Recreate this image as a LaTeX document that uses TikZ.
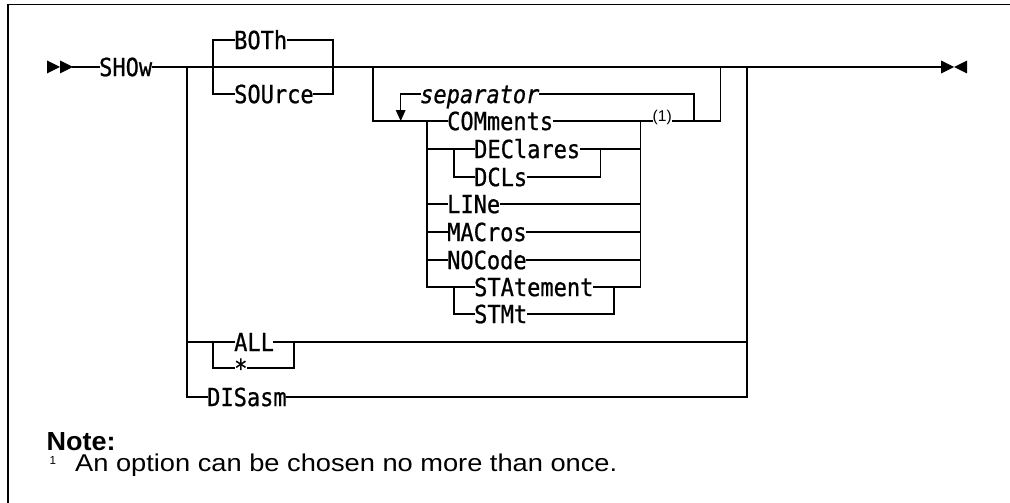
\documentclass[tikz,border=0pt]{standalone}
\usepackage{fontspec}
\setmainfont{Liberation Sans}
\newfontfamily\kwfam[FakeStretch=0.88,FakeBold=0.8]{DejaVu Sans Mono}
\begin{document}
\begin{tikzpicture}[x=1pt,y=-1pt,
  rail/.style={line width=1.4pt, line cap=rect},
  kw/.style={inner sep=0pt, anchor=west, text height=18.2pt, text depth=0pt,
     font=\kwfam\fontsize{25}{30}\selectfont},
  kwi/.style={kw, font=\kwfam\itshape\fontsize{25}{30}\selectfont},
  fnote/.style={inner sep=0pt, anchor=base west, fill=white},
  plain/.style={inner sep=0pt, anchor=base west},
  frame/.style={line width=1.6pt}
]
\useasboundingbox (0,0) rectangle (1010,503);
% open frame
\draw[frame] (8,503) -- (8,4.5) -- (1012,4.5);

% nodes
\node[kw] (show) at (99,67) {SHOw};
\node[kw] (both) at (234,40) {BOTh};
\node[kw] (source) at (234,94) {SOUrce};
\node[kwi] (sep) at (420,94) {separator};
\node[kw] (com) at (447,121) {COMments};
\node[kw] (decl) at (474,149) {DEClares};
\node[kw] (dcls) at (474,177) {DCLs};
\node[kw] (line) at (447,204) {LINe};
\node[kw] (mac) at (447,232) {MACros};
\node[kw] (noc) at (447,260) {NOCode};
\node[kw] (stat) at (474,287) {STAtement};
\node[kw] (stmt) at (474,314) {STMt};
\node[kw] (all) at (234,342) {ALL};
\node[kw] (star) at (234,368) {*};
\node[kw] (dis) at (207,397) {DISasm};

\coordinate (startL) at (73,67);
\coordinate (endL) at (941,67);

% start / end marks
\fill (47,60.5) -- (60,67) -- (47,73.5) -- cycle;
\fill (60,60.5) -- (73,67) -- (60,73.5) -- cycle;
\fill (941,60.5) -- (954,67) -- (941,73.5) -- cycle;
\fill (967,60.5) -- (954,67) -- (967,73.5) -- cycle;

% main line
\draw[rail] (startL) -- (show.west);
\draw[rail] (show.east) -- (endL);

% BOTh / SOUrce
\draw[rail] (both.west) -- (213,40) -- (213,94) -- (source.west);
\draw[rail] (both.east) -- (333,40) -- (333,94) -- (source.east);

% left branch: ALL / * / DISasm
\draw[rail] (187,67) |- (dis.west);
\draw[rail] (187,342) -- (all.west);
\draw[rail] (213,342) |- (star.west);
\draw[rail] (star.east) -| (294,342);
\draw[rail] (all.east) -- (747,342);
\draw[rail] (dis.east) -| (747,67);

% option group
\draw[rail] (373,67) |- (com.west);
\draw[rail] (com.east) -| (720.7,67);
\draw[rail] (694,121) |- (sep.east);
\draw[rail] (sep.west) -| (400.7,110);
\fill (395.7,110) -- (405.7,110) -- (400.7,121) -- cycle;
\node[fnote] (fn1) at (652.5,121.7) {\resizebox{!}{11.3pt}{(1)}};

\draw[rail] (427,121) |- (stat.west);
\draw[rail] (427,149) -- (decl.west);
\draw[rail] (454,149) |- (dcls.west);
\draw[rail] (dcls.east) -| (600.7,149);
\draw[rail] (decl.east) -- (640.7,149);
\draw[rail] (427,204) -- (line.west);
\draw[rail] (line.east) -- (640.7,204);
\draw[rail] (427,232) -- (mac.west);
\draw[rail] (mac.east) -- (640.7,232);
\draw[rail] (427,260) -- (noc.west);
\draw[rail] (noc.east) -- (640.7,260);
\draw[rail] (454,287) |- (stmt.west);
\draw[rail] (stmt.east) -| (614,287);
\draw[rail] (stat.east) -| (640.7,121);

% note
\node[plain] (nh) at (46.5,450.7) {\resizebox{69pt}{18pt}{\bfseries Note:}};
\node[plain] (sn) at (49.5,464) {\resizebox{!}{8pt}{1}};
\node[plain] (nt) at (75,471.7) {\resizebox{542pt}{17.6pt}{An option can be chosen no more than once.}};
\end{tikzpicture}
\end{document}
